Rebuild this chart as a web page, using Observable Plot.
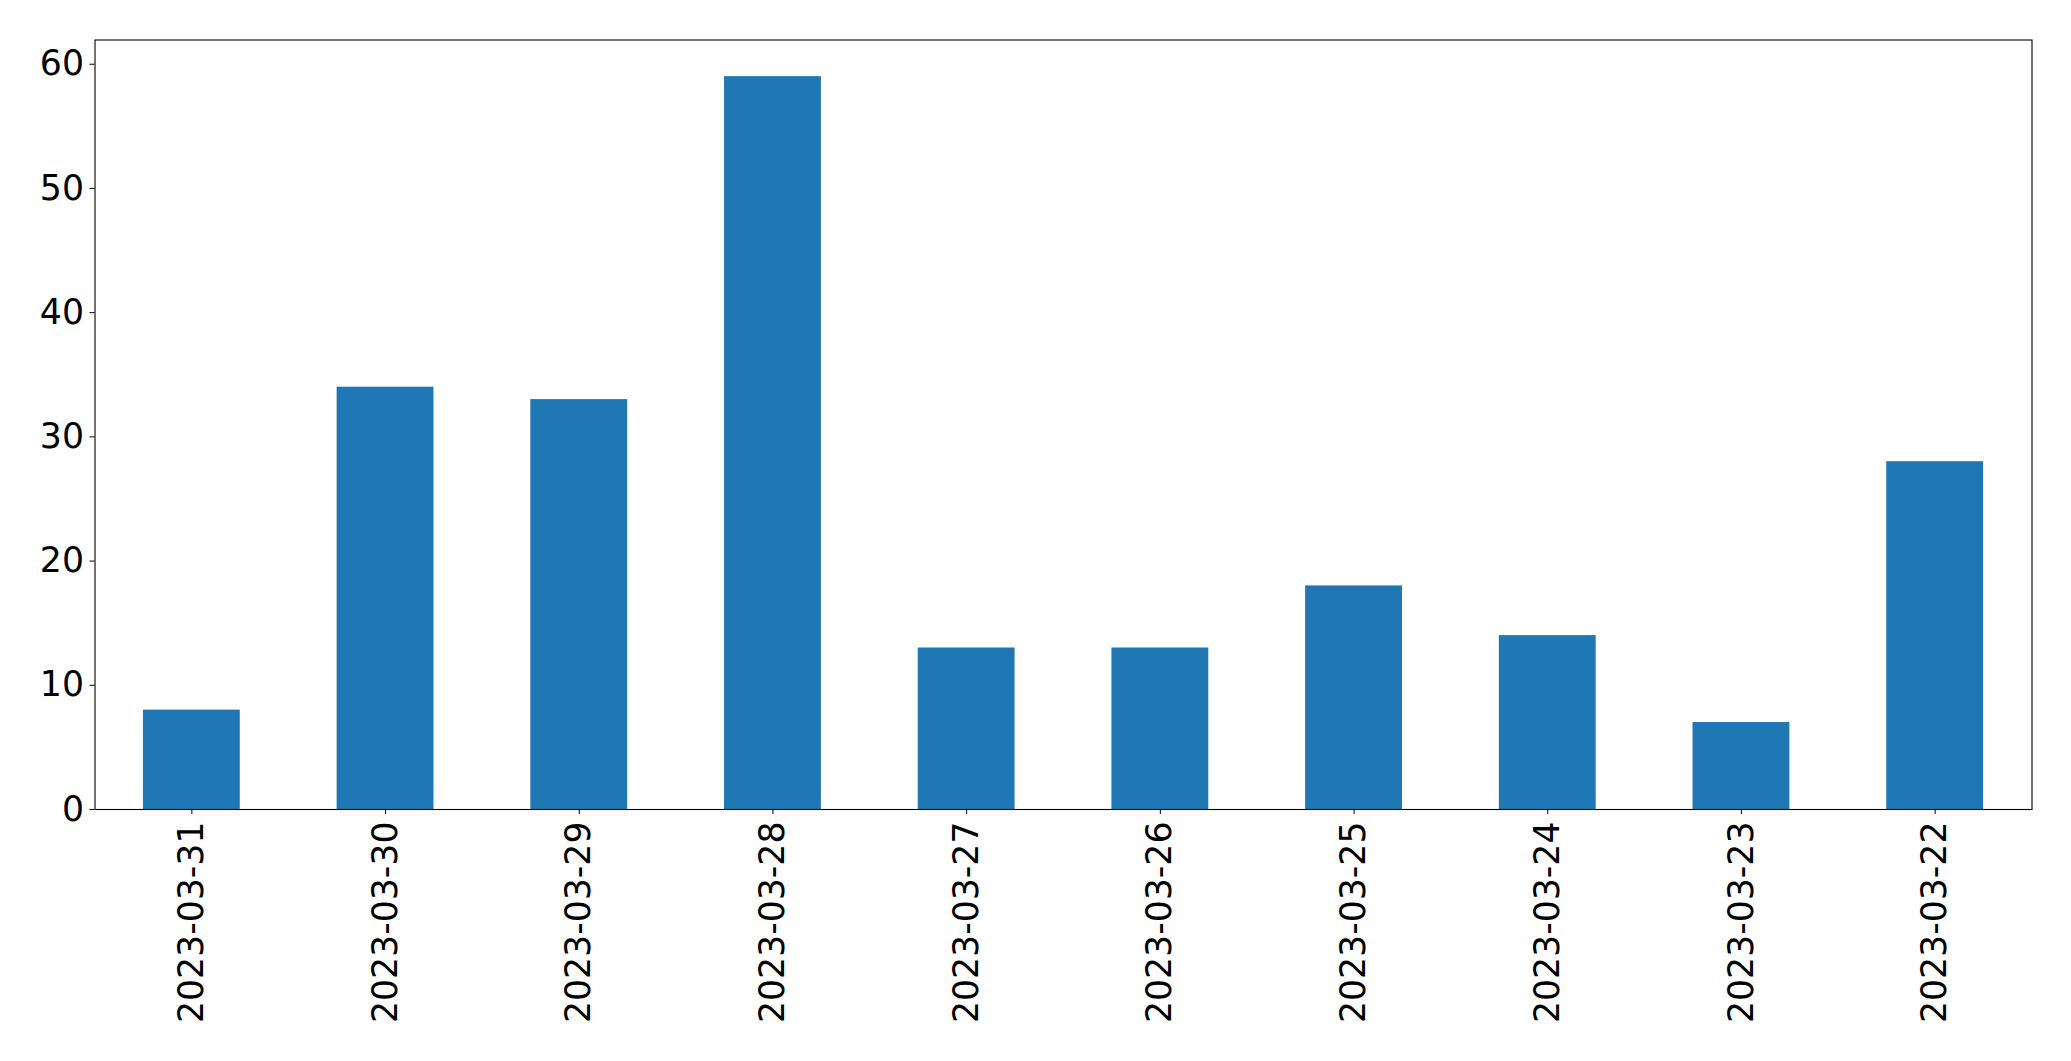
<!DOCTYPE html>
<html>
<head>
<meta charset="utf-8">
<script src="https://cdn.jsdelivr.net/npm/d3@7"></script>
<script src="https://cdn.jsdelivr.net/npm/@observablehq/plot@0.6"></script>
<style>
  html, body { margin: 0; padding: 0; background: #fff; }
  #chart svg { display: block; }
</style>
</head>
<body>
<div id="chart"></div>
<script>
const dates = ["2023-03-31","2023-03-30","2023-03-29","2023-03-28","2023-03-27","2023-03-26","2023-03-25","2023-03-24","2023-03-23","2023-03-22"];
const counts = [8, 34, 33, 59, 13, 13, 18, 14, 7, 28];
const yTicks = [0, 10, 20, 30, 40, 50, 60];

const data = dates.map((d, i) => ({date: d, count: counts[i]}));

const chart = Plot.plot({
  width: 2071,
  height: 1061,
  marginLeft: 94.5,
  marginRight: 39.5,
  marginTop: 39.5,
  marginBottom: 252,
  style: {fontFamily: "DejaVu Sans", fontSize: "34.7px", color: "black", background: "white"},
  x: {domain: dates, paddingInner: 0.5, paddingOuter: 0.25, round: false, label: null},
  y: {domain: [0, 61.95], label: null},
  marks: [
    Plot.barY(data, {x: "date", y: "count", fill: "#1f77b4"}),
    Plot.axisY({ticks: yTicks, tickSize: 5, tickPadding: 6, fontSize: 34.7, label: null, tickFormat: d => String(d)}),
    Plot.axisX({tickSize: 5, tickPadding: 7, tickRotate: -90, fontSize: 34.7, label: null}),
    Plot.frame({stroke: "black", strokeWidth: 1.1})
  ]
});
document.getElementById("chart").appendChild(chart);
</script>
</body>
</html>
